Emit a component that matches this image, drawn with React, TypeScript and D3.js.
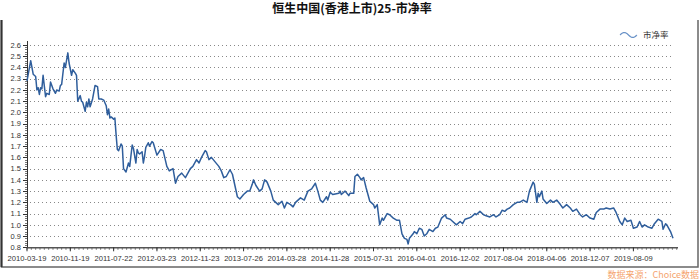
import React from "react";
import * as d3 from "d3";

// ---- data (weekly series, index = weeks since 2010-03-19) ----
const weekIndex = [
  0, 3, 5, 7, 8, 9, 10, 11, 12, 13, 15, 16, 18, 19, 21, 23, 24, 26, 27, 28,
  30, 31, 33, 34, 36, 37, 39, 40, 41, 43, 44, 45, 47, 48, 49, 50, 51, 53, 55, 57,
  58, 60, 62, 64, 65, 66, 67, 68, 70, 71, 72, 73, 74, 76, 77, 78, 80, 82, 83, 85,
  86, 88, 89, 90, 91, 93, 94, 95, 96, 98, 99, 101, 102, 105, 108, 110, 113, 115, 118, 120,
  122, 125, 128, 132, 134, 137, 139, 141, 144, 145, 147, 149, 152, 155, 157, 159, 161, 164, 166, 168,
  170, 172, 175, 178, 180, 182, 183, 185, 188, 190, 192, 194, 197, 199, 203, 206, 208, 210, 213, 215,
  217, 221, 224, 227, 230, 233, 235, 237, 239, 242, 243, 245, 247, 252, 253, 254, 257, 260, 261, 264,
  265, 267, 269, 270, 272, 274, 277, 280, 281, 283, 285, 287, 288, 291, 293, 296, 299, 301, 303, 305,
  307, 308, 309, 312, 313, 315, 317, 319, 321, 323, 325, 328, 330, 332, 335, 338, 339, 342, 344, 347,
  350, 352, 354, 357, 359, 362, 363, 366, 369, 371, 374, 377, 379, 382, 384, 386, 388, 390, 393, 396,
  398, 401, 404, 406, 409, 410, 412, 413, 414, 416, 417, 420, 423, 425, 428, 431, 433, 436, 439, 441,
  444, 447, 449, 452, 455, 458, 460, 463, 466, 468, 471, 474, 476, 479, 481, 483, 485, 488, 490, 493,
  495, 497, 499, 502, 505, 507, 510, 513, 514, 516, 517, 520, 522,
];
const pbValues = [
  2.28, 2.46, 2.34, 2.32, 2.2, 2.22, 2.16, 2.22, 2.21, 2.33, 2.14, 2.17, 2.16, 2.27, 2.21, 2.17, 2.2, 2.19, 2.24, 2.25,
  2.44, 2.4, 2.53, 2.44, 2.33, 2.38, 2.35, 2.33, 2.1, 2.15, 2.1, 2.09, 2.01, 2.09, 2.05, 2.12, 2.05, 2.12, 2.24, 2.23,
  2.12, 2.12, 2.11, 2.06, 1.98, 2.03, 1.95, 1.96, 1.94, 1.95, 1.8, 1.67, 1.66, 1.72, 1.7, 1.5, 1.47, 1.55, 1.52, 1.71,
  1.68, 1.55, 1.67, 1.64, 1.63, 1.65, 1.55, 1.61, 1.69, 1.73, 1.7, 1.74, 1.73, 1.62, 1.67, 1.66, 1.52, 1.48, 1.5, 1.37,
  1.43, 1.46, 1.42, 1.5, 1.52, 1.58, 1.55, 1.6, 1.66, 1.65, 1.58, 1.6, 1.56, 1.52, 1.48, 1.42, 1.43, 1.49, 1.45, 1.35,
  1.25, 1.23, 1.27, 1.3, 1.3, 1.36, 1.4, 1.35, 1.3, 1.32, 1.4, 1.38, 1.3, 1.22, 1.18, 1.21, 1.15, 1.2, 1.18, 1.16,
  1.2, 1.24, 1.22, 1.3, 1.32, 1.37, 1.3, 1.22, 1.2, 1.25, 1.22, 1.29, 1.27, 1.28, 1.3, 1.27, 1.3, 1.26, 1.28, 1.28,
  1.43, 1.45, 1.42, 1.4, 1.42, 1.33, 1.21, 1.18, 1.15, 1.18, 1.0, 1.06, 1.04, 1.1, 1.09, 1.06, 1.04, 1.04, 0.92, 0.88,
  0.87, 0.83, 0.88, 0.92, 0.94, 0.92, 0.97, 0.96, 0.9, 0.92, 0.96, 0.94, 0.97, 0.98, 1.06, 1.09, 1.06, 1.05, 1.03, 1.0,
  1.03, 1.01, 1.05, 1.06, 1.07, 1.1, 1.09, 1.12, 1.09, 1.08, 1.07, 1.09, 1.07, 1.09, 1.13, 1.12, 1.14, 1.15, 1.18, 1.2,
  1.2, 1.22, 1.2, 1.3, 1.38, 1.36, 1.2, 1.28, 1.25, 1.3, 1.23, 1.19, 1.22, 1.2, 1.22, 1.18, 1.15, 1.18, 1.15, 1.12,
  1.14, 1.09, 1.07, 1.09, 1.06, 1.05, 1.11, 1.14, 1.14, 1.15, 1.14, 1.15, 1.11, 1.03, 1.0, 1.06, 1.03, 1.04, 0.97, 0.98,
  1.03, 0.98, 1.0, 0.98, 0.97, 1.01, 1.05, 1.03, 0.96, 1.01, 1.0, 0.94, 0.88,
];
const totalWeeks = 522;
const xTickLabels = [
  "2010-03-19", "2010-11-19", "2011-07-22", "2012-03-23", "2012-11-23", "2013-07-26", "2014-03-28",
  "2014-11-28", "2015-07-31", "2016-04-01", "2016-12-02", "2017-08-04", "2018-04-06", "2018-12-07", "2019-08-09",
];
const xTickStep = 35;
const yTicks = [0.8, 0.9, 1.0, 1.1, 1.2, 1.3, 1.4, 1.5, 1.6, 1.7, 1.8, 1.9, 2.0, 2.1, 2.2, 2.3, 2.4, 2.5, 2.6];
const title = "恒生中国(香港上市)25-市净率";
const seriesName = "市净率";
const sourceText = "数据来源：Choice数据";

export default function App() {
  const left = 27, right = 673, top = 45, bottom = 247.3;
  const x = d3.scaleLinear().domain([0, totalWeeks]).range([left, right]);
  const y = d3.scaleLinear().domain([0.8, 2.6]).range([bottom, top]);
  const pts: [number, number][] = weekIndex.map((w, i) => [w, pbValues[i]]);
  const line = d3.line<[number, number]>().x((d) => x(d[0])).y((d) => y(d[1]));

  const minorY = d3.range(0.8, 2.6001, 0.02);
  const minorX = d3.range(0, totalWeeks + 4, 3.5);
  const font = "Arial, 'Liberation Sans', sans-serif";
  const lineColor = "#2f5e9c";

  // legend wave
  const wave = d3
    .line<number>()
    .x((t) => 620 + t * 17)
    .y((t) => 35 - Math.sin(t * Math.PI * 2) * 2.5)
    .curve(d3.curveBasis)(d3.range(0, 1.0001, 0.05));

  return (
    <svg
      width={700}
      height={279}
      style={{ position: "absolute", left: 0, top: 0, display: "block", background: "#fff" }}
    >
      {/* frame */}
      <path d="M1.5,20 V267 H698 V20" fill="none" stroke="#666" strokeWidth={1.5} />
      <line x1={1.5} y1={20} x2={1.5} y2={267} stroke="#333" strokeWidth={2} />

      {/* title */}
      <text
        x={352}
        y={13}
        textAnchor="middle"
        fontFamily="'Noto Sans CJK SC', sans-serif"
        fontWeight="bold"
        fontSize={12}
        fill="#111"
      >
        {title}
      </text>

      {/* grid */}
      {yTicks.slice(1).map((t) => (
        <line
          key={"g" + t}
          x1={left + 3}
          x2={right}
          y1={Math.round(y(t)) + 0.5}
          y2={Math.round(y(t)) + 0.5}
          stroke="#888"
          strokeWidth={1}
          strokeDasharray="1,3"
        />
      ))}

      {/* y axis */}
      <line x1={left + 0.5} x2={left + 0.5} y1={41} y2={bottom} stroke="#333" strokeWidth={1} />
      {minorY.map((t, i) => (
        <line
          key={"my" + i}
          x1={left - 2}
          x2={left}
          y1={Math.round(y(t)) + 0.5}
          y2={Math.round(y(t)) + 0.5}
          stroke="#555"
          strokeWidth={0.8}
        />
      ))}
      {yTicks.map((t) => (
        <g key={"yt" + t}>
          <line x1={left - 4} x2={left} y1={Math.round(y(t)) + 0.5} y2={Math.round(y(t)) + 0.5} stroke="#333" />
          <text
            x={21}
            y={y(t) + 2.7}
            textAnchor="end"
            fontFamily={font}
            fontSize={7.5}
            fill="#333"
          >
            {t.toFixed(1)}
          </text>
        </g>
      ))}

      {/* x axis */}
      <line x1={left} x2={678} y1={bottom + 0.5} y2={bottom + 0.5} stroke="#555" strokeWidth={1.6} />
      {minorX.map((w, i) => (
        <line key={"mx" + i} x1={x(w)} x2={x(w)} y1={bottom} y2={bottom + 2.5} stroke="#555" strokeWidth={0.8} />
      ))}
      {xTickLabels.map((lab, i) => (
        <g key={lab}>
          <line x1={x(i * xTickStep)} x2={x(i * xTickStep)} y1={bottom} y2={bottom + 4} stroke="#333" />
          <text
            x={x(i * xTickStep)}
            y={260.5}
            textAnchor="middle"
            fontFamily={font}
            fontSize={7.6}
            fill="#333"
          >
            {lab}
          </text>
        </g>
      ))}

      {/* series */}
      <path d={line(pts) || ""} fill="none" stroke={lineColor} strokeWidth={1.5} strokeLinejoin="round" />

      {/* legend */}
      <path d={wave || ""} fill="none" stroke="#6a93c8" strokeWidth={1.2} />
      <text x={643} y={38} fontFamily="'Noto Sans CJK SC', sans-serif" fontSize={8.5} fill="#333">
        {seriesName}
      </text>

      {/* source */}
      <text
        x={699}
        y={277.5}
        textAnchor="end"
        fontFamily="'Noto Sans CJK SC', sans-serif"
        fontSize={9}
        fill="#f5a46e"
      >
        {sourceText}
      </text>
    </svg>
  );
}
